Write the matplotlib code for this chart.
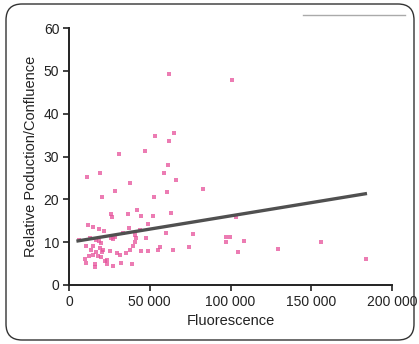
import numpy as np
import matplotlib
matplotlib.use('Agg')
import matplotlib.pyplot as plt
from matplotlib.patches import FancyBboxPatch
from matplotlib.ticker import FuncFormatter

plt.rcParams['font.family'] = ['Liberation Sans', 'DejaVu Sans']

fluorescence = [
    61920, 64830, 53440, 61920, 47060, 30770, 61300, 58820, 19010, 11150,
    66070, 37960, 28300, 60680, 20430, 52630, 25820, 26810, 36530, 41920,
    44580, 51830, 63160, 48730, 11950, 14680, 18580, 21490, 33440, 40680,
    43960, 37340, 59880, 76970, 25820, 28480, 27430, 41300, 47680, 40870,
    39810, 13000, 16530, 18760, 20000, 6010, 10710, 14860, 19200, 21050,
    13620, 16530, 20250, 25390, 12570, 15050, 18140, 20000, 9910, 10710,
    15910, 22110, 23340, 29540, 31580, 35290, 37770, 44580, 49100, 55290,
    56350, 64580, 74120, 32380, 27430, 38820, 23340, 16290, 100930, 83160,
    103590, 97210, 99880, 97210, 108170, 104460, 129410, 155850, 183900,
]
production = [
    49.3, 35.5, 34.7, 33.6, 31.4, 30.5, 28.1, 26.1, 26.1, 25.2,
    24.4, 23.7, 21.9, 21.6, 20.5, 20.5, 16.6, 15.9, 16.6, 17.6,
    16.1, 16.0, 16.7, 14.3, 13.9, 13.5, 13.1, 12.6, 12.2, 11.7,
    12.8, 13.2, 12.2, 11.9, 11.0, 11.3, 10.7, 11.0, 11.0, 10.1,
    9.2, 10.9, 10.5, 10.3, 9.7, 10.4, 9.2, 9.1, 8.7, 8.1,
    8.1, 7.7, 7.7, 7.9, 6.8, 6.9, 6.8, 6.6, 6.0, 5.1,
    4.8, 5.6, 5.9, 7.5, 7.0, 7.5, 8.2, 7.9, 7.9, 8.1,
    8.8, 8.2, 8.8, 5.1, 4.5, 5.0, 4.8, 4.3, 47.9, 22.5,
    15.9, 11.3, 11.1, 10.0, 10.3, 7.6, 8.3, 10.1, 6.1,
]

# trend line end points
fit_x = [5600, 183500]
fit_y = [10.3, 21.3]

x_ticks = [0, 50000, 100000, 150000, 200000]
y_ticks = [0, 10, 20, 30, 40, 50, 60]

fig = plt.figure(figsize=(4.19, 3.44), dpi=100)
ax = fig.add_axes([69/419, 1-285/344, 323/419, 257/344])

ax.scatter(fluorescence, production, s=9, marker='s', color='#e6509a',
           alpha=0.75, linewidths=0, zorder=2)
ax.plot(fit_x, fit_y, color='#505050', lw=2.4, zorder=3)

ax.set_xlim(0, 200000)
ax.set_ylim(0, 60)
ax.set_xticks(x_ticks)
ax.set_yticks(y_ticks)
ax.xaxis.set_major_formatter(FuncFormatter(lambda v, p: f'{int(v):,}'.replace(',', ' ')))
ax.tick_params(labelsize=10, colors='#222222', width=1.2, length=4, pad=3)
ax.spines['top'].set_visible(False)
ax.spines['right'].set_visible(False)
for s in ['left', 'bottom']:
    ax.spines[s].set_linewidth(1.4)
    ax.spines[s].set_color('#222222')

ax.set_xlabel('Fluorescence', fontsize=10.5, color='#222222', labelpad=4)
ax.set_ylabel('Relative Poduction/Confluence', fontsize=10.5, color='#222222', labelpad=4)

frame = FancyBboxPatch((0.06, 0.04), 4.08, 3.36, boxstyle='round,pad=0,rounding_size=0.16',
                       transform=fig.dpi_scale_trans, fill=False, edgecolor='#333333', lw=1.0)
fig.patches.append(frame)
fig.add_artist(plt.Line2D([3.03, 4.05], [3.29, 3.29], transform=fig.dpi_scale_trans,
                          color='#aaaaaa', lw=1.0))

fig.savefig('out.png', dpi=100)
